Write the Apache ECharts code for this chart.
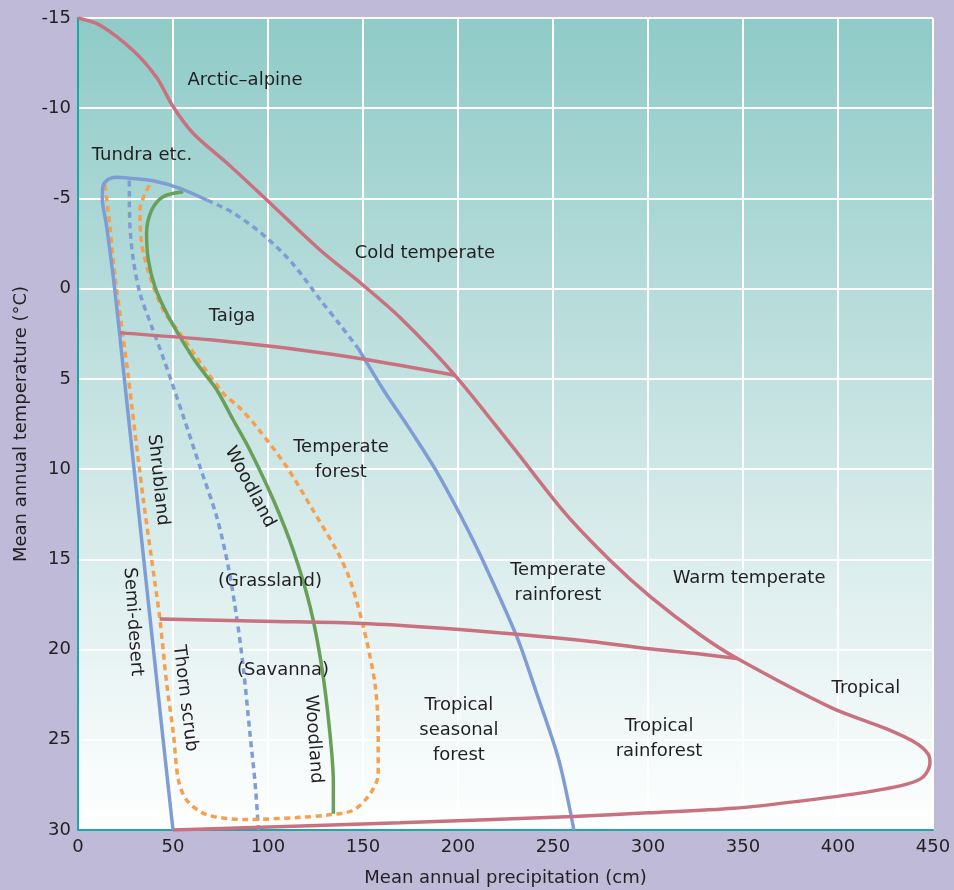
<!DOCTYPE html>
<html><head><meta charset="utf-8">
<script src="https://cdn.jsdelivr.net/npm/echarts@6.0.0/dist/echarts.min.js"></script>
<style>html,body{margin:0;padding:0;background:#bfbad8;}#c{width:954px;height:890px;}</style>
</head><body><div id="c"></div>
<script>
// [precipitation (cm), temperature (°C)]
const redOuter = [[0,-15],[11.6,-14.6],[29,-13.2],[41.4,-11.7],[50,-10.1],[60.7,-8.6],[78.4,-6.96],[99.5,-4.9],[127.4,-2.14],[150,-0.2],[169.5,1.6],[198.4,4.8],[229,8.8],[256,12.4],[280,15.05],[301,17.05],[327,19.15],[347,20.5],[397,23.25],[425.6,24.4],[441.4,25.2],[447.5,25.8],[448.4,26.3],[444.9,27.05],[436.2,27.46],[415,27.9],[380,28.4],[345,28.8],[300,29.05],[260.5,29.25],[169.5,29.6],[50,30]];
const redTaiga = [[22,2.45],[71,2.85],[117,3.4],[150,3.9],[198.4,4.8]];
const redTropical = [[43,18.3],[97,18.43],[150,18.55],[190,18.8],[231,19.15],[270,19.55],[299.3,19.94],[327.4,20.25],[347,20.5]];
const blueOuterA = [[50,30],[44.8,25],[39.7,20],[34.6,15],[29.5,10],[24.4,5],[19.3,0],[15,-3.5],[12.8,-5.0],[13.2,-5.7],[16,-6.06],[20.4,-6.17],[27.4,-6.12],[39.5,-5.98],[53.7,-5.56],[68,-4.9]];
const blueOuterDash = [[68,-4.9],[81.7,-4.2],[99.5,-2.8],[113.3,-1.35],[127.4,0.6],[137.9,2.0],[147.4,3.3]];
const blueOuterB = [[147.4,3.3],[160.7,5.6],[174.7,7.8],[188,10.0],[201,12.5],[213,15.05],[231,19.3],[241,22.3],[253,26.1],[261,30]];
const blueInner = [[27,-6.0],[27,-5.3],[27.4,-3.4],[29.1,-1.6],[32.6,0.26],[38.8,2.1],[45.3,3.96],[55.5,7.1],[64.2,9.87],[73,12.64],[79.1,15.4],[83.5,18.2],[87,21],[90.5,24.65],[93.2,27.4],[95,30]];
const orange = [[14.2,-5.75],[16.8,-3.43],[19.5,-0.66],[23,2.1],[26.5,4.9],[28.3,6.5],[34.4,11.7],[40.5,16.3],[43.2,18.4],[46.7,21.9],[50.2,24.65],[52.8,27.2],[57.2,28.35],[67.7,29.15],[88.8,29.42],[116.8,29.3],[130.9,29.18],[144.9,28.9],[153.7,28.0],[158,26.9],[158,24.65],[156.3,21.9],[150.2,18.74],[143.2,16.15],[136.1,14.5],[123.8,12.3],[109.8,9.87],[94,7.66],[85,6.6],[76.5,5.8],[66,4.33],[53.7,2.48],[44.9,1.19],[37.9,-0.66],[33.5,-2.5],[32.6,-4.36],[35.3,-5.28],[38.8,-5.93]];
const green = [[55.4,-5.37],[44.9,-5.1],[38.8,-4.36],[36.1,-3.07],[37,-1.6],[40.5,-0.1],[46.7,1.37],[53.7,2.67],[62.5,4.14],[73,5.6],[81.7,7.28],[90.5,8.95],[102.8,11.7],[113.3,14.5],[122.1,17.6],[128.3,20.96],[132.6,24.65],[134.4,27.4],[134.4,29.1]];
const labelTexts = ['Arctic–alpine','Tundra etc.','Cold temperate','Taiga','Temperate\nforest','Shrubland','Woodland','(Grassland)','Semi-desert','Thorn scrub','(Savanna)','Woodland','Temperate\nrainforest','Warm temperate','Tropical','Tropical\nseasonal\nforest','Tropical\nrainforest'];
const labelCoords = [[87.9,-11.56],[33.7,-7.41],[182.6,-1.97],[81.1,1.52],[138.4,9.5],[42.1,10.6],[90.5,11.0],[101,16.2],[28.9,18.46],[56.3,22.7],[107.9,21.14],[123.9,24.97],[252.6,16.32],[353.2,16.04],[414.7,22.14],[200.5,24.47],[305.8,24.97]];
const labelAngles = [0,0,0,0,0,-84,-62,0,-86,-83,0,-86,0,0,0,0,0];

const FONT = 'DejaVu Sans';
const TXT = '#231f20';
const RED = '#c9717e', BLUE = '#7f9dd5', GREEN = '#68a05a', ORANGE = '#f6a04d';

function line(data, color, dashed, z) {
  return {
    type: 'line', data: data, smooth: 0.3, symbol: 'none', silent: true, z: z || 2,
    lineStyle: { color: color, width: 3.5, type: dashed ? [6, 4.5] : 'solid', cap: 'butt' },
    animation: false
  };
}

const chart = echarts.init(document.getElementById('c'), null, { renderer: 'canvas' });
chart.setOption({
  backgroundColor: '#bfbad8',
  animation: false,
  grid: {
    left: 78, top: 18, right: 21, bottom: 60, show: true, borderWidth: 0,
    containLabel: false, outerBoundsMode: 'none',
    backgroundColor: { type: 'linear', x: 0, y: 0, x2: 0, y2: 1, colorStops: [
      { offset: 0, color: '#8fcbc8' }, { offset: 0.5, color: '#c8e4e3' }, { offset: 1, color: '#ffffff' }] }
  },
  xAxis: {
    type: 'value', min: 0, max: 450, interval: 50,
    name: 'Mean annual precipitation (cm)', nameLocation: 'middle', nameGap: 39,
    nameTextStyle: { color: TXT, fontFamily: FONT, fontSize: 18 },
    axisLine: { show: true, onZero: false, lineStyle: { color: '#1aa8a8', width: 2 } },
    axisTick: { show: false },
    axisLabel: { color: TXT, fontFamily: FONT, fontSize: 18, margin: 8 },
    splitLine: { show: true, lineStyle: { color: '#ffffff', width: 2 } }
  },
  yAxis: {
    type: 'value', min: -15, max: 30, interval: 5, inverse: true,
    name: 'Mean annual temperature (°C)', nameLocation: 'middle', nameGap: 48,
    nameTextStyle: { color: TXT, fontFamily: FONT, fontSize: 18 },
    axisLine: { show: true, onZero: false, lineStyle: { color: '#1aa8a8', width: 2 } },
    axisTick: { show: false },
    axisLabel: { color: TXT, fontFamily: FONT, fontSize: 18, margin: 7 },
    splitLine: { show: true, lineStyle: { color: '#ffffff', width: 2 } }
  },
  series: [
    line(blueInner, BLUE, true),
    line(orange, ORANGE, true),
    line(green, GREEN, false),
    line(blueOuterA, BLUE, false),
    line(blueOuterDash, BLUE, true),
    line(blueOuterB, BLUE, false),
    line(redOuter, RED, false, 3),
    line(redTaiga, RED, false, 3),
    line(redTropical, RED, false, 3),
    {
      type: 'scatter', symbolSize: 0, silent: true, z: 10,
      itemStyle: { opacity: 1 },
      data: labelTexts.map((t, i) => ({
        name: t, value: labelCoords[i],
        label: { rotate: labelAngles[i] }
      })),
      label: {
        show: true, position: 'inside', formatter: '{b}', color: TXT, opacity: 1,
        fontFamily: FONT, fontSize: 18, lineHeight: 25, align: 'center', verticalAlign: 'middle'
      }
    }
  ]
});
</script>
</body></html>
